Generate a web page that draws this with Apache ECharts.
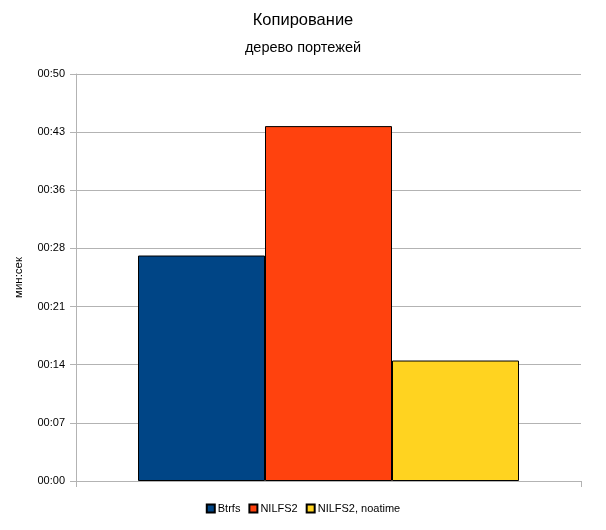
<!DOCTYPE html>
<html>
<head>
    <meta http-equiv="Content-Type" content="text/html; charset=utf-8">
    <title>Копирование</title>
    <style>
        html, body { margin: 0; padding: 0; background: #fff; }
        #echarts_main { width: 606px; height: 530px; }
    </style>
</head>
<body>
    <div id="echarts_main"></div>
    <script src="https://cdn.jsdelivr.net/npm/echarts@6/dist/echarts.min.js"></script>
    <script>
        // данные (секунды)
        var categories = [''];
        var seriesNames = ['Btrfs', 'NILFS2', 'NILFS2, noatime'];
        var btrfs = [27.7];
        var nilfs2 = [43.6];
        var nilfs2Noatime = [14.8];
        var tickLabels = ['00:00', '00:07', '00:14', '00:21', '00:28', '00:36', '00:43', '00:50'];
        var colors = ['#004586', '#ff420e', '#ffd320'];

        var yMax = 50;
        var yStep = yMax / (tickLabels.length - 1);
        var font = 'Liberation Sans, Arial, sans-serif';

        var myChart = echarts.init(document.getElementById('echarts_main'));

        function barSeries(name, data, color) {
            return {
                name: name,
                type: 'bar',
                data: data,
                barWidth: 127,
                barGap: '0%',
                itemStyle: {
                    color: color,
                    borderColor: '#000',
                    borderWidth: 1
                },
                emphasis: { disabled: true }
            };
        }

        var option = {
            animation: false,
            textStyle: { fontFamily: font },
            title: {
                text: 'Копирование',
                subtext: 'дерево портежей',
                left: 'center',
                top: 7,
                itemGap: 11,
                textStyle: { fontSize: 16.5, fontWeight: 'normal', color: '#000', fontFamily: font },
                subtextStyle: { fontSize: 14.5, color: '#000', fontFamily: font }
            },
            legend: {
                bottom: 11,
                left: 'center',
                itemWidth: 8,
                itemHeight: 8,
                itemGap: 8,
                icon: 'rect',
                textStyle: { fontSize: 11, color: '#000', fontFamily: font, padding: [0, 0, 0, -2] },
                data: seriesNames
            },
            grid: {
                left: 76,
                right: 25,
                top: 74,
                bottom: 49,
                containLabel: false
            },
            xAxis: {
                type: 'category',
                data: categories,
                axisLine: { lineStyle: { color: '#b3b3b3' } },
                axisTick: { show: true, length: 6, lineStyle: { color: '#b3b3b3' } },
                axisLabel: { show: false }
            },
            yAxis: {
                type: 'value',
                name: 'мин:сек',
                nameLocation: 'middle',
                nameGap: 51,
                nameTextStyle: { fontSize: 11.5, color: '#000', fontFamily: font },
                min: 0,
                max: yMax,
                interval: yStep,
                axisLine: { show: true, lineStyle: { color: '#b3b3b3' } },
                axisTick: { show: true, inside: false, length: 6, lineStyle: { color: '#b3b3b3', width: 1 } },
                splitLine: { lineStyle: { color: '#b3b3b3' } },
                axisLabel: {
                    fontSize: 11,
                    color: '#000',
                    margin: 11,
                    formatter: function (v) {
                        return tickLabels[Math.round(v / yStep)];
                    }
                }
            },
            series: [
                barSeries(seriesNames[0], btrfs, colors[0]),
                barSeries(seriesNames[1], nilfs2, colors[1]),
                barSeries(seriesNames[2], nilfs2Noatime, colors[2])
            ]
        };

        myChart.setOption(option);
    </script>
</body>
</html>
